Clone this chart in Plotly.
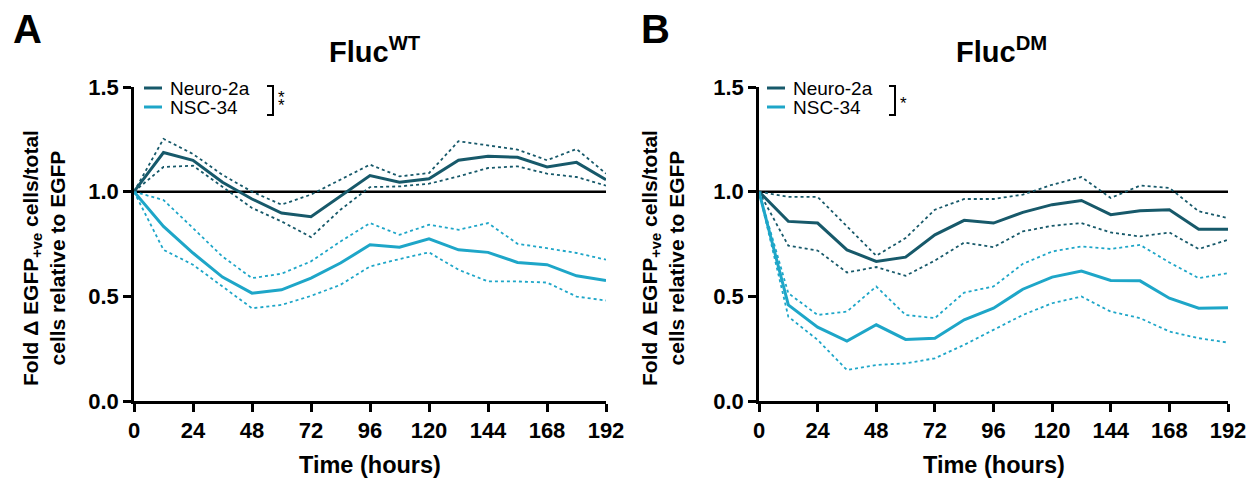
import plotly.graph_objects as go

hours = [0, 12, 24, 36, 48, 60, 72, 84, 96, 108, 120, 132, 144, 156, 168, 180, 192]
x_ticks = [0, 24, 48, 72, 96, 120, 144, 168, 192]
y_ticks = [0.0, 0.5, 1.0, 1.5]
y_tick_labels = ["0.0", "0.5", "1.0", "1.5"]
baseline = [1.0] * len(hours)

# Panel A (Fluc WT)
a_neuro_mean = [1.0, 1.187, 1.15, 1.045, 0.965, 0.898, 0.88, 0.98, 1.077, 1.045, 1.062, 1.15, 1.169, 1.164, 1.118, 1.14, 1.057]
a_neuro_upper = [1.0, 1.252, 1.18, 1.08, 1.0, 0.938, 0.986, 1.057, 1.129, 1.073, 1.089, 1.241, 1.22, 1.201, 1.15, 1.204, 1.086]
a_neuro_lower = [1.0, 1.118, 1.124, 1.025, 0.922, 0.858, 0.783, 0.914, 1.022, 1.025, 1.038, 1.073, 1.113, 1.121, 1.086, 1.07, 1.029]
a_nsc_mean = [1.0, 0.834, 0.707, 0.592, 0.515, 0.531, 0.587, 0.659, 0.746, 0.735, 0.775, 0.722, 0.71, 0.662, 0.651, 0.598, 0.576]
a_nsc_upper = [1.0, 0.96, 0.826, 0.69, 0.587, 0.608, 0.667, 0.762, 0.85, 0.794, 0.842, 0.818, 0.85, 0.751, 0.73, 0.707, 0.675]
a_nsc_lower = [1.0, 0.722, 0.651, 0.547, 0.443, 0.459, 0.502, 0.555, 0.643, 0.678, 0.71, 0.627, 0.571, 0.571, 0.566, 0.499, 0.48]

# Panel B (Fluc DM)
b_neuro_mean = [1.0, 0.858, 0.85, 0.722, 0.667, 0.687, 0.794, 0.863, 0.85, 0.901, 0.938, 0.958, 0.89, 0.909, 0.914, 0.821, 0.821]
b_neuro_upper = [1.0, 0.975, 0.975, 0.834, 0.694, 0.778, 0.914, 0.965, 0.965, 0.986, 1.033, 1.07, 0.97, 1.029, 1.018, 0.906, 0.874]
b_neuro_lower = [1.0, 0.742, 0.719, 0.614, 0.64, 0.598, 0.671, 0.757, 0.735, 0.81, 0.837, 0.85, 0.805, 0.786, 0.805, 0.726, 0.77]
b_nsc_mean = [1.0, 0.459, 0.353, 0.286, 0.364, 0.294, 0.3, 0.388, 0.443, 0.534, 0.592, 0.621, 0.576, 0.574, 0.491, 0.443, 0.446]
b_nsc_upper = [1.0, 0.515, 0.411, 0.427, 0.547, 0.411, 0.396, 0.518, 0.547, 0.655, 0.714, 0.738, 0.726, 0.746, 0.662, 0.587, 0.611]
b_nsc_lower = [1.0, 0.403, 0.292, 0.148, 0.172, 0.18, 0.204, 0.268, 0.34, 0.411, 0.467, 0.499, 0.427, 0.396, 0.332, 0.3, 0.279]

series_names = ["Neuro-2a", "NSC-34"]
NEURO = "#17596a"
NSC = "#1ea6c8"
FONT = "Liberation Sans, Arial, sans-serif"

# the page body has an 8px default margin, so the figure is 16px smaller than the window
OFF = 8
W, H = 1260 - 2 * OFF, 486 - 2 * OFF
def px(x):
    return (x - OFF) / W
def py(y):
    return 1 - (y - OFF) / H

fig = go.Figure()

panels = [
    ("x", "y", a_neuro_mean, a_neuro_upper, a_neuro_lower, a_nsc_mean, a_nsc_upper, a_nsc_lower),
    ("x2", "y2", b_neuro_mean, b_neuro_upper, b_neuro_lower, b_nsc_mean, b_nsc_upper, b_nsc_lower),
]
for xa, ya, nm, nu, nl, sm, su, sl in panels:
    fig.add_trace(go.Scatter(x=hours, y=baseline, mode="lines", xaxis=xa, yaxis=ya,
                             line=dict(color="black", width=2.5), showlegend=False, hoverinfo="skip"))
    for vals, col in [(nu, NEURO), (nl, NEURO), (su, NSC), (sl, NSC)]:
        fig.add_trace(go.Scatter(x=hours, y=vals, mode="lines", xaxis=xa, yaxis=ya,
                                 line=dict(color=col, width=1.8, dash="dot"), showlegend=False))
    fig.add_trace(go.Scatter(x=hours, y=nm, mode="lines", xaxis=xa, yaxis=ya, name=series_names[0],
                             line=dict(color=NEURO, width=3), showlegend=False))
    fig.add_trace(go.Scatter(x=hours, y=sm, mode="lines", xaxis=xa, yaxis=ya, name=series_names[1],
                             line=dict(color=NSC, width=3), showlegend=False))

ydom = [py(401), py(87)]
axis_common = dict(showline=True, linecolor="black", linewidth=2.5, ticks="outside", ticklen=8,
                   tickwidth=2.5, tickcolor="black", showgrid=False, zeroline=False, automargin=False,
                   tickfont=dict(family=FONT, size=22, color="black", weight="bold"))
xaxis_common = dict(range=[0, 192], tickvals=x_ticks, ticktext=[str(v) for v in x_ticks], **axis_common)
yaxis_common = dict(range=[0, 1.5], tickvals=y_ticks, ticktext=y_tick_labels, **axis_common)

fig.update_layout(
    template="none",
    width=W, height=H,
    autosize=False,
    margin=dict(l=0, r=0, t=0, b=0, pad=0),
    plot_bgcolor="white", paper_bgcolor="white",
    showlegend=False,
    xaxis=dict(domain=[px(134), px(606)], anchor="y", **xaxis_common),
    yaxis=dict(domain=ydom, anchor="x", **yaxis_common),
    xaxis2=dict(domain=[px(759), px(1228)], anchor="y2", **xaxis_common),
    yaxis2=dict(domain=ydom, anchor="x2", **yaxis_common),
)

ann = []
shapes = []
ytitle = "Fold Δ EGFP<sub>+ve</sub> cells/total<br>cells relative to EGFP"
for letter, lx, title, tx, ytx, xmid, leg_x, br_x in [
    ("A", 27, "Fluc<sup>WT</sup>", 375, 44, (134 + 606) / 2, 144, 267),
    ("B", 655, "Fluc<sup>DM</sup>", 1001, 663, (759 + 1228) / 2, 767, 889),
]:
    ann.append(dict(x=px(lx), y=py(29), xref="paper", yref="paper", text=letter, showarrow=False,
                    font=dict(family=FONT, size=40, color="black", weight="bold"), xanchor="center", yanchor="middle"))
    ann.append(dict(x=px(tx), y=py(50), xref="paper", yref="paper", text=title, showarrow=False,
                    font=dict(family=FONT, size=29, color="black", weight="bold"), xanchor="center", yanchor="middle"))
    ann.append(dict(x=px(ytx), y=py(258), xref="paper", yref="paper", text=ytitle, showarrow=False, textangle=-90,
                    font=dict(family=FONT, size=21, color="black", weight="bold"), xanchor="center", yanchor="middle"))
    ann.append(dict(x=px(xmid), y=py(465), xref="paper", yref="paper", text="Time (hours)", showarrow=False,
                    font=dict(family=FONT, size=23.5, color="black", weight="bold"), xanchor="center", yanchor="middle"))
    # legend
    for i, (nm_, col) in enumerate(zip(series_names, [NEURO, NSC])):
        yy = 88 + i * 19
        shapes.append(dict(type="line", xref="paper", yref="paper", x0=px(leg_x), x1=px(leg_x + 18),
                           y0=py(yy), y1=py(yy), line=dict(color=col, width=3)))
        ann.append(dict(x=px(leg_x + 24), y=py(yy), xref="paper", yref="paper", text=nm_, showarrow=False,
                        font=dict(family=FONT, size=19, color="black"), xanchor="left", yanchor="middle"))
    # significance bracket
    shapes.append(dict(type="path", xref="paper", yref="paper",
                       path=f"M {px(br_x)} {py(86)} L {px(br_x + 6)} {py(86)} L {px(br_x + 6)} {py(115)} L {px(br_x)} {py(115)}",
                       line=dict(color="black", width=2)))
    if letter == "A":
        for sy in (98, 106):
            ann.append(dict(x=px(br_x + 9), y=py(sy), xref="paper", yref="paper", text="*", showarrow=False,
                            font=dict(family=FONT, size=17, color="black"), xanchor="left", yanchor="middle"))
    else:
        ann.append(dict(x=px(br_x + 9), y=py(103), xref="paper", yref="paper", text="*", showarrow=False,
                        font=dict(family=FONT, size=17, color="black"), xanchor="left", yanchor="middle"))

fig.update_layout(annotations=ann, shapes=shapes)
fig.write_html("out.html")
